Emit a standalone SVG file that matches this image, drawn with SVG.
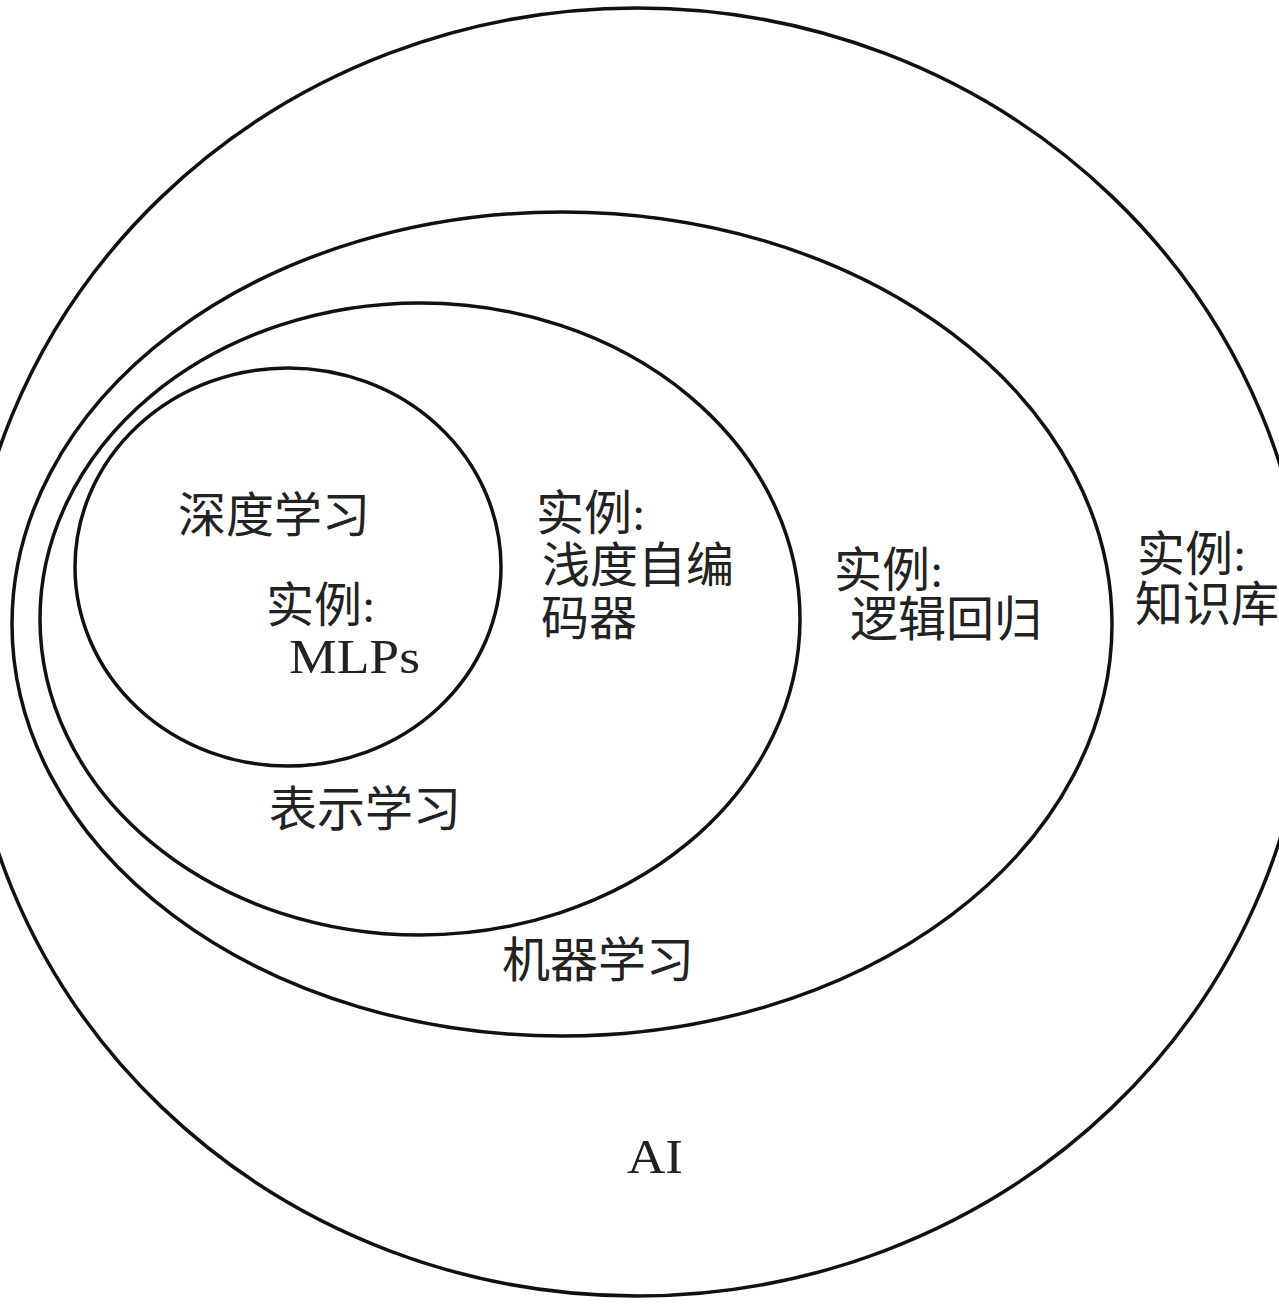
<svg xmlns="http://www.w3.org/2000/svg" width="1279" height="1312" viewBox="0 0 1279 1312">
<style>
.e{fill:none;stroke:#111;stroke-width:3.5}
.t{font-family:"Liberation Serif","Noto Sans CJK SC",serif;font-size:48px;fill:#222}
</style>
<rect width="1279" height="1312" fill="#fff"/>
<g id="ai">
<ellipse class="e" cx="637" cy="652" rx="672" ry="644"/>
<text class="t" x="1137" y="571" font-size="46">实例:</text>
<text class="t" x="1135" y="621" font-size="46">知识库</text>
<text class="t" x="627" y="1173" font-size="52" textLength="56" lengthAdjust="spacingAndGlyphs">AI</text>
</g>
<g id="ml">
<ellipse class="e" cx="562" cy="624" rx="550" ry="412"/>
<text class="t" x="834" y="587">实例:</text>
<text class="t" x="850" y="636">逻辑回归</text>
<text class="t" x="502" y="977">机器学习</text>
</g>
<g id="rl">
<ellipse class="e" cx="420" cy="619" rx="380" ry="316"/>
<text class="t" x="536" y="530">实例:</text>
<text class="t" x="542" y="582">浅度自编</text>
<text class="t" x="541" y="635">码器</text>
<text class="t" x="269" y="826">表示学习</text>
</g>
<g id="dl">
<ellipse class="e" cx="288" cy="567" rx="213" ry="199"/>
<text class="t" x="178" y="532">深度学习</text>
<text class="t" x="266" y="622">实例:</text>
<text class="t" x="289" y="673" font-size="48" textLength="131" lengthAdjust="spacingAndGlyphs">MLPs</text>
</g>
<g id="connectors"/>
</svg>
